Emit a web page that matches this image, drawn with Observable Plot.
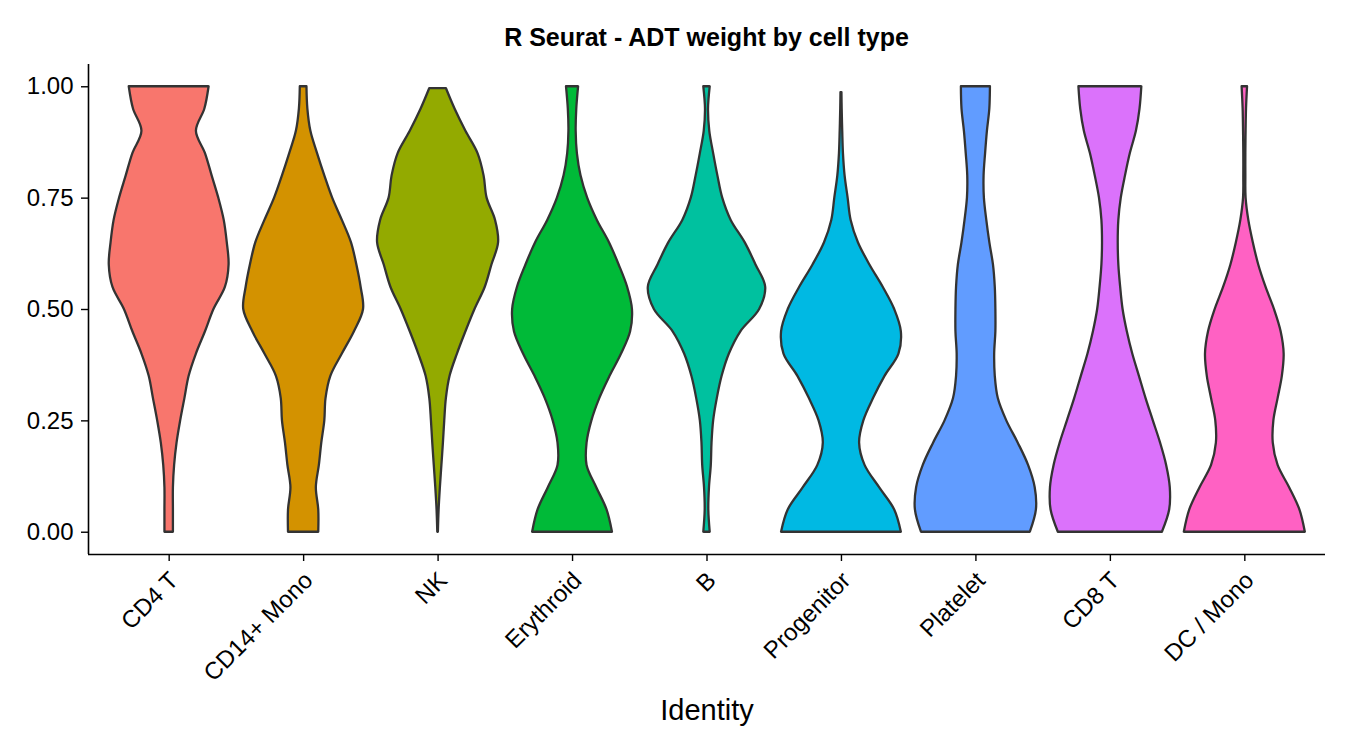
<!DOCTYPE html>
<html>
<head>
<meta charset="utf-8">
<script src="https://cdn.jsdelivr.net/npm/d3@7"></script>
<script src="https://cdn.jsdelivr.net/npm/@observablehq/plot@0.6"></script>
<style>
  body { margin: 0; background: #fff; font-family: "Liberation Sans", Arial, sans-serif; }
  #title { box-sizing: border-box; height: 50px; padding: 23px 25px 0 88px; line-height: 28px;
           text-align: center; font-weight: bold; font-size: 25px; color: #000; }
</style>
</head>
<body>
<div id="title">R Seurat - ADT weight by cell type</div>
<div id="chart"></div>
<script>
// Cell types (x categories)
const categories = ["CD4 T", "CD14+ Mono", "NK", "Erythroid", "B", "Progenitor", "Platelet", "CD8 T", "DC / Mono"];
// ggplot default hue palette for 9 groups
const colors = ["#F8766D", "#D39200", "#93AA00", "#00BA38", "#00C19F", "#00B9E3", "#619CFF", "#DB72FB", "#FF61C3"];
// ADT weight levels at which the violin densities were read
const levels = [0, 0.05, 0.10, 0.15, 0.20, 0.25, 0.30, 0.35, 0.40, 0.45, 0.50, 0.55, 0.60, 0.65, 0.70, 0.75, 0.80, 0.85, 0.90, 0.95, 1.00];
// maximum observed weight per cell type (violins are trimmed)
const maxWeight = [1, 1, 0.996, 1, 1, 0.987, 1, 1, 1];
// relative density (scaled to max = 1 per violin) at each level
const densCD4T       = [0.07,0.07,0.07,0.09,0.13,0.19,0.26,0.33,0.45,0.60,0.74,0.93,0.99,0.96,0.91,0.82,0.71,0.60,0.45,0.59,0.66];
const densCD14Mono   = [0.25,0.25,0.21,0.26,0.30,0.35,0.37,0.45,0.64,0.84,0.99,0.95,0.88,0.79,0.64,0.48,0.35,0.23,0.12,0.07,0.055];
const densNK         = [0.005,0.017,0.038,0.063,0.088,0.11,0.137,0.198,0.32,0.46,0.61,0.78,0.89,1.0,0.95,0.81,0.76,0.66,0.46,0.28,0.137];
const densErythroid  = [0.66,0.57,0.40,0.24,0.24,0.32,0.45,0.62,0.81,0.96,0.99,0.91,0.77,0.61,0.41,0.25,0.14,0.08,0.06,0.07,0.10];
const densB          = [0.053,0.03,0.041,0.071,0.083,0.11,0.17,0.25,0.37,0.56,0.87,0.97,0.81,0.63,0.40,0.26,0.18,0.11,0.046,0.025,0.053];
const densProgenitor = [0.99,0.88,0.63,0.39,0.30,0.37,0.53,0.72,0.95,0.99,0.88,0.69,0.47,0.28,0.16,0.11,0.06,0.033,0.021,0.012,0.008];
const densPlatelet   = [0.90,1.0,0.98,0.87,0.70,0.51,0.37,0.32,0.31,0.33,0.33,0.32,0.29,0.23,0.18,0.14,0.135,0.16,0.19,0.23,0.24];
const densCD8T       = [0.86,0.98,0.99,0.93,0.83,0.71,0.59,0.48,0.37,0.28,0.21,0.17,0.14,0.13,0.14,0.18,0.25,0.33,0.43,0.49,0.52];
const densDCMono     = [1.0,0.91,0.74,0.55,0.47,0.48,0.55,0.62,0.65,0.60,0.49,0.35,0.23,0.14,0.066,0.021,0.017,0.017,0.021,0.028,0.045];
const densities = [densCD4T, densCD14Mono, densNK, densErythroid, densB, densProgenitor, densPlatelet, densCD8T, densDCMono];
const yTicks = [0, 0.25, 0.5, 0.75, 1];

const halfWidth = 0.45; // violin width 0.9 of a category step
const rows = [];
categories.forEach((cat, i) => {
  levels.forEach((lv, j) => {
    const y = Math.min(lv, maxWeight[i]);
    if (j > 0 && y <= rows[rows.length - 1].y) return;
    const w = densities[i][j] * halfWidth;
    rows.push({cat, y, x1: i + 1 - w, x2: i + 1 + w});
  });
});

const font = "Liberation Sans, Arial, sans-serif";
const plot = Plot.plot({
  width: 1350,
  height: 700,
  marginLeft: 88,
  marginRight: 25,
  marginTop: 14,
  marginBottom: 196,
  style: {fontFamily: font, color: "#000", background: "#fff"},
  x: {domain: [0.4, 9.6]},
  y: {domain: [-0.05, 1.05]},
  color: {domain: categories, range: colors},
  marks: [
    Plot.areaX(rows, {y: "y", x1: "x1", x2: "x2", z: "cat", fill: "cat",
      stroke: "#333333", strokeWidth: 2.3, curve: "catmull-rom"}),
    Plot.ruleX([0.4], {stroke: "#000", strokeWidth: 1.6}),
    Plot.ruleY([-0.05], {stroke: "#000", strokeWidth: 1.6}),
    Plot.axisY({ticks: yTicks, tickFormat: d3.format(".2f"), tickSize: 7, tickPadding: 8,
      fontSize: 24, stroke: "#000", strokeWidth: 1.4, label: null}),
    Plot.axisX({ticks: d3.range(1, 10), tickSize: 7, stroke: "#000", strokeWidth: 1.4,
      tickFormat: () => "", label: null}),
    Plot.axisX({ticks: d3.range(1, 10), tickFormat: d => categories[d - 1], tickSize: 0,
      tickPadding: 17, tickRotate: -45, fontSize: 24, dx: 5, dy: 5,
      label: null}),
    Plot.axisX({ticks: [], tickSize: 0,
      label: "Identity", labelAnchor: "center", labelArrow: "none", labelOffset: 165})
  ]
});
plot.querySelectorAll("[aria-label='x-axis label'] text, [aria-label='x-axis label']").forEach(el => el.setAttribute("font-size", "29"));
document.getElementById("chart").appendChild(plot);
</script>
</body>
</html>
